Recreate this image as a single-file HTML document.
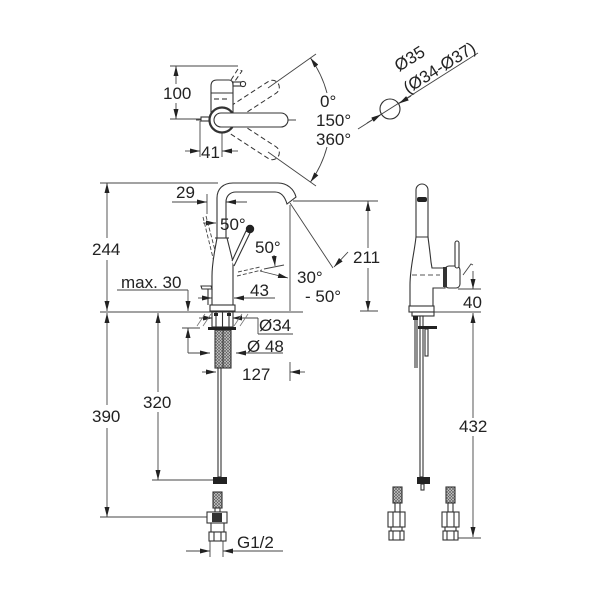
<!DOCTYPE html>
<html><head><meta charset="utf-8"><style>
html,body{margin:0;padding:0;background:#fff;}
svg{display:block;}
text{font-family:"Liberation Sans",Arial,sans-serif;font-size:17px;fill:#222;}
</style></head><body>
<svg width="600" height="600" viewBox="0 0 600 600" xmlns="http://www.w3.org/2000/svg">
<defs>
<marker id="ar" viewBox="0 0 10 5" refX="10" refY="2.5" markerWidth="10" markerHeight="5" markerUnits="userSpaceOnUse" orient="auto">
<path d="M0,0 L10,2.5 L0,5 Z" fill="#222"/>
</marker>
<pattern id="hatch" width="3" height="3" patternUnits="userSpaceOnUse">
<rect width="3" height="3" fill="#c8c8c8"/>
<path d="M0,0 L3,3 M3,0 L0,3" stroke="#555" stroke-width="0.6"/>
</pattern>
</defs>

<!-- ================= TOP VIEW ================= -->
<g stroke="#444" stroke-width="0.9" fill="none">
 <line x1="170" y1="66" x2="238" y2="66"/>
 <line x1="170" y1="119" x2="201" y2="119"/>
 <line x1="176" y1="84" x2="176" y2="66" marker-end="url(#ar)"/>
 <line x1="176" y1="103" x2="176" y2="119" marker-end="url(#ar)"/>
 <line x1="200" y1="121" x2="200" y2="157"/>
 <line x1="222" y1="133" x2="222" y2="157"/>
 <line x1="185" y1="151" x2="200" y2="151" marker-end="url(#ar)"/>
 <line x1="238" y1="151" x2="222" y2="151" marker-end="url(#ar)"/>
 <!-- centerline -->
 <line x1="196" y1="120" x2="296" y2="120"/>
 <!-- angle lines -->
 <line x1="268" y1="88" x2="316" y2="54"/>
 <line x1="268" y1="152" x2="316" y2="186"/>
 <path d="M327,93 A108,108 0 0 0 310.5,58" marker-end="url(#ar)"/>
 <path d="M327,147 A108,108 0 0 1 310.5,182" marker-end="url(#ar)"/>
 <!-- Ø35 -->
 <line x1="358" y1="129" x2="478" y2="53"/>
 <line x1="367" y1="123" x2="381" y2="114.5" marker-end="url(#ar)"/>
 <line x1="411" y1="96" x2="399" y2="103.5" marker-end="url(#ar)"/>
</g>
<circle cx="390" cy="109" r="10" fill="none" stroke="#333" stroke-width="1.1"/>

<!-- top view faucet -->
<g stroke="#333" stroke-width="1" fill="none" stroke-dasharray="5,3">
 <path d="M230.8,105.9 L268.5,81.4 A7,7 0 0 1 276.1,93.2 L238.4,117.7"/>
 <path d="M230.8,134.1 L268.5,158.6 A7,7 0 0 0 276.1,146.8 L238.4,122.3"/>
 <path d="M231,80 L238,69 L242,71 L235,81"/>
</g>
<g stroke="#333" stroke-width="1.1" fill="#fff">
 <rect x="201" y="117" width="10" height="4"/>
 <path d="M211,112 L211,86 Q211,80 217,80 L229,80 Q233,80 233,85 L233,112 Z"/>
 <line x1="211" y1="93" x2="233" y2="93"/>
 <line x1="214" y1="99" x2="219" y2="99"/>
 <line x1="222" y1="99" x2="227" y2="99"/>
 <rect x="233" y="82" width="9" height="4"/>
 <circle cx="243" cy="84" r="2.6"/>
 <circle cx="222" cy="120" r="12.5" stroke-width="2.2"/>
 <path d="M221,113 L281,113 A7,7 0 0 1 281,127 L221,127 A7,7 0 0 1 221,113 Z"/>
</g>

<!-- ================= FRONT VIEW ================= -->
<g stroke="#444" stroke-width="0.9" fill="none">
 <!-- ext lines -->
 <line x1="100" y1="183" x2="218" y2="183"/>
 <line x1="100" y1="312" x2="303" y2="312"/>
 <line x1="293" y1="201" x2="378" y2="201"/>
 <line x1="360" y1="311" x2="378" y2="311"/>
 <line x1="290" y1="205" x2="290" y2="311"/>
 <line x1="290" y1="203" x2="333" y2="268"/>
 <!-- 244 -->
 <line x1="107" y1="238" x2="107" y2="183" marker-end="url(#ar)"/>
 <line x1="107" y1="260" x2="107" y2="311" marker-end="url(#ar)"/>
 <!-- 390 -->
 <line x1="107" y1="405" x2="107" y2="313" marker-end="url(#ar)"/>
 <line x1="107" y1="428" x2="107" y2="517" marker-end="url(#ar)"/>
 <line x1="100" y1="517" x2="208" y2="517"/>
 <!-- 320 -->
 <line x1="158" y1="392" x2="158" y2="313" marker-end="url(#ar)"/>
 <line x1="158" y1="412" x2="158" y2="480" marker-end="url(#ar)"/>
 <line x1="152" y1="480" x2="214" y2="480"/>
 <!-- 29 -->
 <line x1="207" y1="194" x2="207" y2="214"/>
 <line x1="172" y1="202" x2="207" y2="202" marker-end="url(#ar)"/>
 <line x1="247" y1="202" x2="226" y2="202" marker-end="url(#ar)"/>
 <!-- 50° first -->
 <line x1="203" y1="223" x2="216" y2="223" marker-end="url(#ar)"/>
 <!-- 50° second -->
 <line x1="274" y1="255" x2="275" y2="266" marker-end="url(#ar)"/>
 <line x1="264" y1="269" x2="284" y2="265"/>
 <!-- 30/-50 -->
 <line x1="260" y1="271" x2="288" y2="278" marker-end="url(#ar)"/>
 <!-- 211 -->
 <line x1="368" y1="248" x2="368" y2="201" marker-end="url(#ar)"/>
 <line x1="368" y1="268" x2="368" y2="311" marker-end="url(#ar)"/>
 <line x1="348" y1="252" x2="334" y2="267" marker-end="url(#ar)"/>
 <!-- max 30 -->
 <line x1="117" y1="290" x2="188" y2="290"/>
 <line x1="188" y1="290" x2="188" y2="311" marker-end="url(#ar)"/>
 <line x1="188" y1="353" x2="188" y2="328" marker-end="url(#ar)"/>
 <line x1="182" y1="328" x2="200" y2="328"/>
 <!-- 43 -->
 <line x1="198" y1="298" x2="212" y2="298" marker-end="url(#ar)"/>
 <line x1="275" y1="298" x2="234" y2="298" marker-end="url(#ar)"/>
 <!-- Ø34 -->
 <line x1="199" y1="318" x2="213" y2="318" marker-end="url(#ar)"/>
 <line x1="258" y1="318" x2="232" y2="318" marker-end="url(#ar)"/>
 <line x1="258" y1="318" x2="258" y2="334"/>
 <line x1="258" y1="334" x2="293" y2="334"/>
 <!-- Ø48 -->
 <line x1="188" y1="353" x2="210" y2="353" marker-end="url(#ar)"/>
 <line x1="283" y1="353" x2="236" y2="353" marker-end="url(#ar)"/>
 <!-- 127 -->
 <line x1="202" y1="372" x2="216" y2="372" marker-end="url(#ar)"/>
 <line x1="305" y1="372" x2="290" y2="372" marker-end="url(#ar)"/>
 <line x1="290" y1="362" x2="290" y2="381"/>
 <!-- G1/2 -->
 <line x1="186" y1="551" x2="210" y2="551" marker-end="url(#ar)"/>
 <line x1="283" y1="551" x2="223" y2="551" marker-end="url(#ar)"/>
 <line x1="210" y1="540" x2="210" y2="557"/>
 <line x1="223" y1="540" x2="223" y2="557"/>
</g>

<!-- dashed lever positions -->
<g stroke="#444" stroke-width="0.9" fill="none" stroke-dasharray="4,2">
 <line x1="203" y1="217" x2="214" y2="262"/>
 <line x1="206" y1="216" x2="217" y2="258"/>
 <line x1="237" y1="276" x2="262" y2="270"/>
 <line x1="238" y1="272" x2="260" y2="267"/>
</g>

<!-- countertop hatch -->
<g stroke="#777" stroke-width="0.8">
 <line x1="197" y1="326" x2="205" y2="314"/>
 <line x1="203" y1="326" x2="211" y2="314"/>
 <line x1="234" y1="326" x2="242" y2="314"/>
 <line x1="240" y1="326" x2="248" y2="314"/>
</g>

<!-- front faucet -->
<g stroke="#333" stroke-width="1.1" fill="#fff">
 <path d="M217,238 L217,198 C217,189 223,183 233,183 L278,183 C287,183 294,189 296,197 L287,204 C285,197 281,192 275,192 L236,192 C230,192 226,196 226,202 L226,238 Z"/>
 <path d="M212,306 L212,276 C212,262 215,250 217,238 L227,238 L233,262 L233,306 Z"/>
 <line x1="215" y1="238" x2="229" y2="238"/>
 <path d="M232,261 L246,231 L250,233 L234,266"/>
 <rect x="210" y="305" width="25" height="6"/>
 <path d="M201,286 L211,286 L212,289 L202,289 Z"/>
 <line x1="208" y1="289" x2="208" y2="305"/>
 <!-- mounting -->
 <rect x="212" y="312" width="21" height="15"/>
 <line x1="216" y1="312" x2="216" y2="327"/>
 <line x1="229" y1="312" x2="229" y2="327"/>
 <line x1="222.5" y1="312" x2="222.5" y2="327"/>
 <rect x="215" y="330" width="16" height="38" fill="url(#hatch)"/>
 <line x1="223" y1="330" x2="223" y2="368"/>
 <rect x="218" y="368" width="3" height="109"/>
 <!-- connector front -->
 <rect x="213" y="492" width="9" height="16" fill="url(#hatch)"/>
 <rect x="215" y="508" width="5" height="4"/>
 <rect x="207" y="512" width="20" height="11"/>
 <rect x="211" y="523" width="13" height="9"/>
 <rect x="209" y="532" width="17" height="9"/>
 <line x1="214" y1="532" x2="214" y2="541"/>
 <line x1="221" y1="532" x2="221" y2="541"/>
</g>
<circle cx="250" cy="229" r="4.2" fill="#222"/>
<rect x="214" y="313" width="4" height="3" fill="#222"/>
<rect x="227" y="313" width="4" height="3" fill="#222"/>
<rect x="208" y="327" width="28" height="3" fill="#222"/>
<rect x="213" y="477" width="14" height="7" fill="#222"/>
<rect x="212" y="513" width="10" height="9" fill="#333"/>

<!-- ================= SIDE VIEW ================= -->
<g stroke="#444" stroke-width="0.9" fill="none">
 <line x1="458" y1="289" x2="481" y2="289"/>
 <line x1="432" y1="312" x2="481" y2="312"/>
 <line x1="473" y1="271" x2="473" y2="289" marker-end="url(#ar)"/>
 <line x1="473" y1="418" x2="473" y2="313" marker-end="url(#ar)"/>
 <line x1="473" y1="436" x2="473" y2="537" marker-end="url(#ar)"/>
 <line x1="456" y1="538" x2="481" y2="538"/>
 <path d="M463,275 L471,264 L473,265"/>
</g>
<g stroke="#333" stroke-width="1.1" fill="#fff">
 <path d="M416,237 L416,190 A6,6 0 0 1 428,190 L428,237 Z"/>
 <path d="M416,237 C414,255 410,268 410,285 L410,307 L433,307 L433,288 L445,288 L445,268 L432,268 L431,262 C430,252 429,245 428,237 Z"/>
 <rect x="445" y="266" width="15" height="22" rx="4"/>
 <rect x="455" y="241" width="4" height="27" rx="2"/>
 <rect x="409" y="306" width="25" height="6"/>
 <rect x="412" y="312" width="22" height="4"/>
 <line x1="415" y1="316" x2="415" y2="368"/>
 <line x1="417" y1="316" x2="417" y2="368"/>
 <rect x="420" y="316" width="3" height="161"/>
 <rect x="425" y="329" width="3" height="27"/>
 <!-- connectors -->
 <rect x="393" y="487" width="9" height="16" fill="url(#hatch)"/>
 <rect x="395" y="503" width="5" height="9"/>
 <rect x="388" y="512" width="17" height="15"/>
 <line x1="393" y1="512" x2="393" y2="527"/>
 <line x1="400" y1="512" x2="400" y2="527"/>
 <rect x="391" y="527" width="11" height="4"/>
 <rect x="389" y="531" width="15" height="9"/>
 <line x1="393" y1="531" x2="393" y2="540"/>
 <line x1="400" y1="531" x2="400" y2="540"/>
 <rect x="446" y="487" width="9" height="16" fill="url(#hatch)"/>
 <rect x="448" y="503" width="5" height="9"/>
 <rect x="442" y="512" width="17" height="15"/>
 <line x1="447" y1="512" x2="447" y2="527"/>
 <line x1="454" y1="512" x2="454" y2="527"/>
 <rect x="445" y="527" width="11" height="4"/>
 <rect x="443" y="531" width="15" height="9"/>
 <line x1="447" y1="531" x2="447" y2="540"/>
 <line x1="454" y1="531" x2="454" y2="540"/>
 <rect x="421" y="484" width="3" height="6"/>
</g>
<line x1="416" y1="237" x2="428" y2="237" stroke="#333" stroke-width="1"/>
<line x1="412" y1="275" x2="440" y2="275" stroke="#555" stroke-width="0.9" stroke-dasharray="5,3"/>
<rect x="417" y="197" width="10" height="5" rx="2" fill="#222"/>
<rect x="443" y="267" width="4" height="20" fill="#333"/>
<rect x="413" y="316" width="5" height="4" fill="#222"/>
<rect x="418" y="326" width="19" height="3" fill="#222"/>
<rect x="417" y="477" width="13" height="7" fill="#222"/>

<!-- ================= TEXT ================= -->
<text x="163" y="99">100</text>
<text x="320" y="107">0°</text>
<text x="316" y="126">150°</text>
<text x="316" y="145">360°</text>
<text x="201" y="158">41</text>
<text transform="translate(399,72) rotate(-32)">Ø35</text>
<text transform="translate(408,94) rotate(-32)">(Ø34-Ø37)</text>
<text x="176" y="198">29</text>
<text x="220" y="230">50°</text>
<text x="92" y="255">244</text>
<text x="255" y="253">50°</text>
<text x="121" y="288">max. 30</text>
<text x="250" y="296">43</text>
<text x="297" y="283">30°</text>
<text x="305" y="302">- 50°</text>
<text x="353" y="263">211</text>
<text x="259" y="331">Ø34</text>
<text x="247" y="352">Ø 48</text>
<text x="242" y="380">127</text>
<text x="143" y="408">320</text>
<text x="92" y="422">390</text>
<text x="237" y="548">G1/2</text>
<text x="463" y="308">40</text>
<text x="459" y="432">432</text>
</svg>
</body></html>
